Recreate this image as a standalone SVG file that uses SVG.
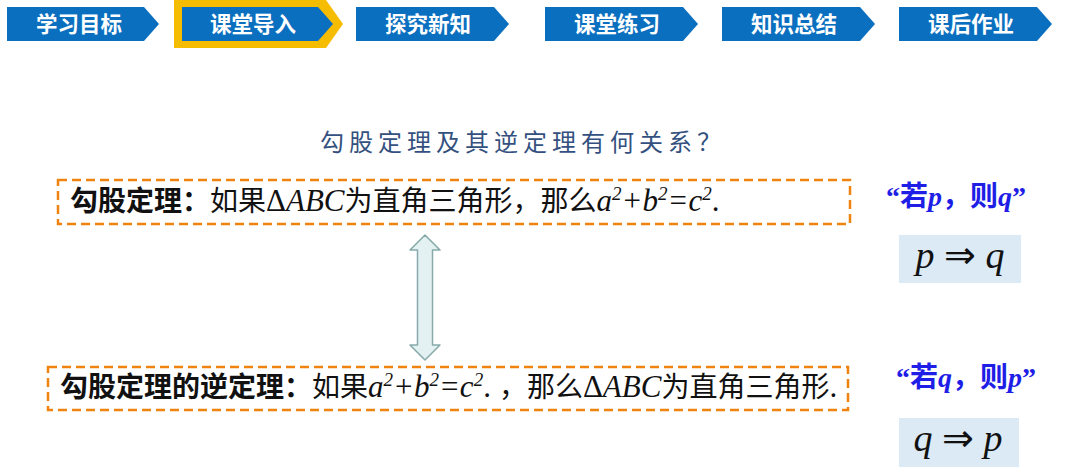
<svg xmlns="http://www.w3.org/2000/svg" width="1080" height="467" viewBox="0 0 1080 467">
<style>
.tab{fill:#0B6FBF}
.tabt{fill:#fff;font-family:"Noto Sans CJK SC",sans-serif;font-weight:bold;font-size:21.5px;text-anchor:middle}
.box{fill:none;stroke:#F0820F;stroke-width:2.5;stroke-dasharray:9 5}
.cn{font-family:"Noto Sans CJK SC",sans-serif;font-size:28px;fill:#111}
.m{font-family:"Liberation Serif",serif;font-size:31px}
.i{font-style:italic}
.sup{font-size:19px}
.blue{font-family:"Liberation Serif","Noto Sans CJK SC",serif;font-size:28px;fill:#1E1EE6;font-weight:bold}
.blue .c{font-family:"Noto Sans CJK SC",sans-serif}
.imp{fill:#DCEAF6}
.impt{font-family:"Liberation Serif",serif;font-size:38px;fill:#111;text-anchor:middle}
</style>
<rect width="1080" height="467" fill="#fff"/>
<g id="nav">
<g id="tab1"><polygon class="tab" points="7,7 144,7 159,24 144,41 7,41"/><text class="tabt" x="79" y="32">学习目标</text></g>
<g id="tab2"><polygon points="174,0 326,0 343,24 326,48 174,48" fill="#F5BC00"/><polygon class="tab" points="182,7 318,7 333,24 318,41 182,41"/><text class="tabt" x="253" y="32">课堂导入</text></g>
<g id="tab3"><polygon class="tab" points="356,7 494,7 509,24 494,41 356,41"/><text class="tabt" x="428" y="32">探究新知</text></g>
<g id="tab4"><polygon class="tab" points="545,7 683,7 698,24 683,41 545,41"/><text class="tabt" x="617" y="32">课堂练习</text></g>
<g id="tab5"><polygon class="tab" points="722,7 860,7 875,24 860,41 722,41"/><text class="tabt" x="794" y="32">知识总结</text></g>
<g id="tab6"><polygon class="tab" points="899,7 1037,7 1052,24 1037,41 899,41"/><text class="tabt" x="971" y="32">课后作业</text></g>
</g>
<g id="title"><text x="523" y="151" text-anchor="middle" font-family="Noto Sans CJK SC,sans-serif" font-size="24" letter-spacing="5" fill="#34507E">勾股定理及其逆定理有何关系？</text></g>
<g id="theorem">
<rect class="box" x="58" y="180" width="792" height="44"/>
<text class="cn" x="70" y="211"><tspan font-weight="bold">勾股定理：</tspan>如果<tspan class="m">Δ<tspan class="i">ABC</tspan></tspan>为直角三角形，那么<tspan class="m i">a<tspan class="sup" dy="-11">2</tspan><tspan dy="11">+b</tspan><tspan class="sup" dy="-11">2</tspan><tspan dy="11">=c</tspan><tspan class="sup" dy="-11">2</tspan><tspan dy="11" font-style="normal">.</tspan></tspan></text>
</g>
<g id="converse">
<rect class="box" x="48" y="367" width="800" height="43"/>
<text class="cn" x="60" y="397"><tspan font-weight="bold">勾股定理的逆定理：</tspan>如果<tspan class="m i">a<tspan class="sup" dy="-11">2</tspan><tspan dy="11">+b</tspan><tspan class="sup" dy="-11">2</tspan><tspan dy="11">=c</tspan><tspan class="sup" dy="-11">2</tspan><tspan dy="11" font-style="normal">.</tspan></tspan><tspan dx="8">，那么</tspan><tspan class="m">Δ<tspan class="i">ABC</tspan></tspan>为直角三角形<tspan class="m">.</tspan></text>
</g>
<g id="connectors">
<polygon points="425,235 440,250 432.5,250 432.5,345 440,345 425,360 410,345 417.5,345 417.5,250 410,250" fill="#E4F1F2" stroke="#86AAAA" stroke-width="1.5" stroke-linejoin="round"/>
</g>
<g id="pq">
<text class="blue" x="886" y="206">“<tspan class="c">若</tspan><tspan font-style="italic">p</tspan><tspan class="c">，则</tspan><tspan font-style="italic">q</tspan>”</text>
<rect class="imp" x="899" y="235" width="122" height="48"/>
<text class="impt" x="960" y="268"><tspan font-style="italic">p</tspan> ⇒ <tspan font-style="italic">q</tspan></text>
</g>
<g id="qp">
<text class="blue" x="896" y="387">“<tspan class="c">若</tspan><tspan font-style="italic">q</tspan><tspan class="c">，则</tspan><tspan font-style="italic">p</tspan>”</text>
<rect class="imp" x="899" y="418" width="120" height="49"/>
<text class="impt" x="958" y="451"><tspan font-style="italic">q</tspan> ⇒ <tspan font-style="italic">p</tspan></text>
</g>
</svg>
